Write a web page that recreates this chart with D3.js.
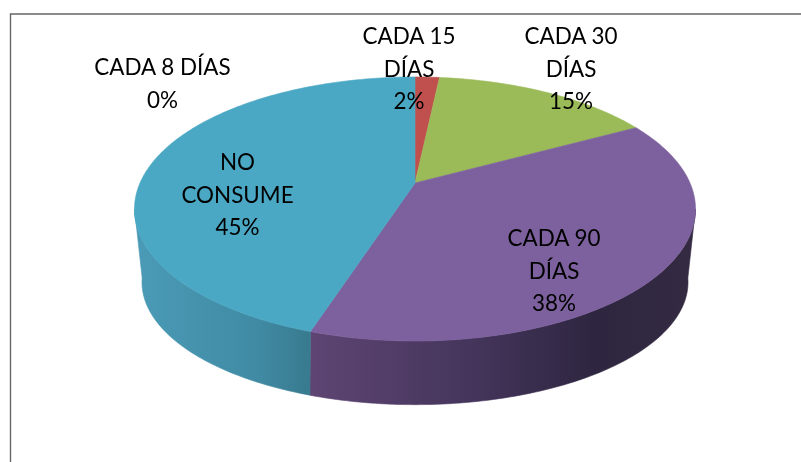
<!DOCTYPE html>
<html><head><meta charset="utf-8">
<script src="https://cdnjs.cloudflare.com/ajax/libs/d3/7.8.5/d3.min.js"></script>
<style>html,body{margin:0;padding:0;background:#fff}svg{display:block}</style>
</head><body><div id="c"></div>
<script>
const categories = ["CADA 8 DÍAS","CADA 15 DÍAS","CADA 30 DÍAS","CADA 90 DÍAS","NO CONSUME"];
const values = [0,1.7,15.4,37.9,45];
const labelLines = [["CADA 8 DÍAS"],["CADA 15","DÍAS"],["CADA 30","DÍAS"],["CADA 90","DÍAS"],["NO","CONSUME"]];
const topColors = ["#4F81BD","#C0504D","#9BBB59","#7D619E","#4AA8C4"];
const sideStops = [null,null,null,
  [["0%","#5E4573"],["45%","#43345A"],["75%","#2E2640"],["100%","#342A42"]],
  [["0%","#4A9AB6"],["70%","#408AA3"],["100%","#387A8F"]]];
const labelX = [162.5,409,571,554,237.5];
const labelY = [67,36,36,238,162];

const W=801,H=462,lineGap=32.5;
const svg=d3.select("#c").append("svg").attr("width",W).attr("height",H).attr("viewBox",[0,0,W,H]);
const defs=svg.append("defs");
defs.append("filter").attr("id","soft").append("feGaussianBlur").attr("stdDeviation",0.35);

// Frame
svg.append("path").attr("d",`M10.5,${H} V14 H${W}`).attr("fill","none").attr("stroke","#666").attr("stroke-width",1.4);

// Perspective projection of the unit disc: top face and bottom face
const topFace={w:0.197,a:275,b:126.9,y0:183}, bottomFace={w:0.23,a:265.7,b:116,y0:254};
function project(theta,f){
  const u=Math.sin(theta), v=-Math.cos(theta), d=1-f.w*v;
  return [415+f.a*u/d, f.y0+f.b*v/d];
}
const pie=d3.pie().sort(null).value(d=>d);
const arcs=pie(values);
const line=d3.line();
const samples=(a,b)=>d3.range(0,1.0001,1/Math.max(2,Math.ceil((b-a)*60))).map(t=>a+(b-a)*t);
const g=svg.append("g");

// Angular range in which the wall faces the viewer
const frontStart=Math.acos(-topFace.w), frontEnd=2*Math.PI-frontStart;

// Side walls, drawn from each slice's visible angular extent
arcs.forEach((a,i)=>{
  if(!sideStops[i])return;
  const id="side"+i, ts=samples(Math.max(a.startAngle,frontStart),Math.min(a.endAngle,frontEnd));
  const xr = i===3 ? [310,690] : [140,310];
  const gr=defs.append("linearGradient").attr("id",id).attr("gradientUnits","userSpaceOnUse")
    .attr("x1",xr[0]).attr("x2",xr[1]).attr("y1",0).attr("y2",0);
  sideStops[i].forEach(s=>gr.append("stop").attr("offset",s[0]).attr("stop-color",s[1]));
  const pts=ts.map(t=>project(t,topFace)), pb=ts.map(t=>project(t,bottomFace));
  g.append("path").attr("d",line(pts.concat(pb.slice().reverse()))+"Z")
    .attr("fill",`url(#${id})`).attr("stroke",`url(#${id})`).attr("stroke-width",0.6);
});

// Top face
arcs.forEach((a,i)=>{
  if(a.endAngle-a.startAngle<1e-6)return;
  const ts=samples(a.startAngle,a.endAngle);
  const pts=[[415,topFace.y0]].concat(ts.map(t=>project(t,topFace)));
  g.append("path").attr("d",line(pts)+"Z").attr("fill",topColors[i]).attr("stroke",topColors[i]).attr("stroke-width",0.6);
});

// Labels
const tg=svg.append("g").attr("font-family","Lato, 'Open Sans', sans-serif").attr("font-size",23.5).attr("fill","#000").attr("text-anchor","middle").attr("filter","url(#soft)");
categories.forEach((c,i)=>{
  const lines=labelLines[i].concat([Math.round(values[i])+"%"]);
  lines.forEach((l,j)=>{
    tg.append("text").attr("transform",`translate(${labelX[i]},${labelY[i]+j*lineGap}) scale(0.955,1)`).attr("dy","0.36em").text(l);
  });
});
</script></body></html>
